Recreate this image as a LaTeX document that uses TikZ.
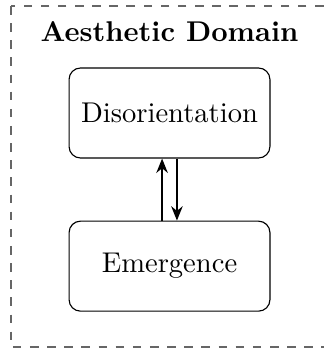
\documentclass[tikz,border=0pt]{standalone}
\usepackage{tikz}
\usetikzlibrary{arrows.meta, positioning}

\begin{document}
\begin{tikzpicture}[x=0.35pt, y=-0.35pt,
    stage/.style={draw, rounded corners=4pt, minimum width=70.3pt, minimum height=31.5pt, align=center},
    flow/.style={-{Stealth[length=5pt,width=4pt]}, thick}]
    % frame of the domain (its right side runs off the page)
    \useasboundingbox (0,0) rectangle (323,350);
    \draw[dashed, black!60] (11,6) rectangle (332,347);
    \node[font=\bfseries] (domain) at (169.5,32) {Aesthetic Domain};

    % the two stages
    \node[stage] (disor) at (169.5,113) {Disorientation};
    \node[stage, below=21.7pt of disor] (emerg) {Emergence};

    % back and forth
    \draw[flow] ([xshift=-2.6pt]emerg.north) -- ([xshift=-2.6pt]disor.south);
    \draw[flow] ([xshift=2.6pt]disor.south) -- ([xshift=2.6pt]emerg.north);
\end{tikzpicture}
\end{document}
